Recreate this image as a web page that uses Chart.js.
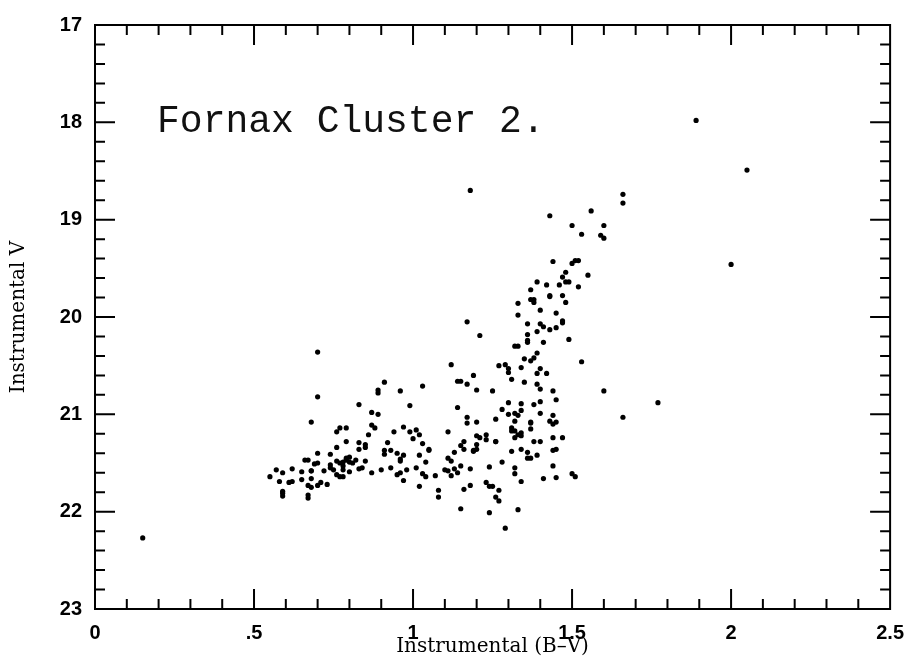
<!DOCTYPE html>
<html>
<head>
<meta charset="utf-8">
<script src="https://cdn.jsdelivr.net/npm/chart.js@4"></script>
<style>
  html, body { margin: 0; padding: 0; background: #fff; }
  #wrap { width: 916px; height: 658px; }
</style>
</head>
<body>
<div id="wrap"><canvas id="cmd" width="916" height="658"></canvas></div>
<script>
const plotLabel = "Fornax Cluster 2.";
const xAxisTitle = "Instrumental (B\u2013V)";
const yAxisTitle = "Instrumental V";
const xTickValues = [0, 0.5, 1, 1.5, 2, 2.5];
const xTickLabels = ["0", ".5", "1", "1.5", "2", "2.5"];
const yTickValues = [17, 18, 19, 20, 21, 22, 23];
const yTickLabels = ["17", "18", "19", "20", "21", "22", "23"];

// instrumental B-V colour of each star
const colorBV = [
  0.70, 0.70, 0.68, 0.91, 0.89, 0.89, 0.83, 0.87, 0.89, 0.87,
  0.88, 0.94, 0.76, 0.77, 0.79, 0.86, 0.79, 0.83, 0.85, 0.85,
  0.76, 0.83, 0.92, 0.91, 0.91, 0.93, 0.70, 0.74, 0.79, 0.80,
  0.66, 0.67, 0.70, 0.69, 0.76, 0.77, 0.78, 0.79, 0.80, 0.81,
  0.82, 0.85, 0.74, 0.74, 0.75, 0.78, 0.78, 0.83, 0.84, 0.80,
  0.72, 0.68, 0.68, 0.65, 0.62, 0.59, 0.57, 0.55, 0.58, 0.61,
  0.62, 0.65, 0.68, 0.76, 0.77, 0.78, 0.87, 0.90, 0.93, 0.95,
  0.67, 0.68, 0.70, 0.71, 0.73, 0.59, 0.59, 0.59, 0.67, 0.67,
  1.03, 0.96, 0.99, 1.14, 1.17, 1.17, 1.20, 1.26, 1.28, 1.30,
  1.30, 1.34, 1.34, 1.32, 1.33, 1.38, 1.32, 1.31, 1.31, 1.32,
  1.33, 1.32, 1.34, 1.34, 1.37, 1.37, 1.37, 1.38, 0.97, 0.99,
  1.01, 1.02, 1.00, 1.11, 1.03, 1.05, 1.05, 0.95, 0.97, 0.96,
  0.96, 1.02, 1.04, 0.98, 0.96, 1.01, 1.03, 1.04, 1.07, 0.97,
  1.02, 1.08, 1.08, 1.16, 1.15, 1.16, 1.13, 1.19, 1.19, 1.20,
  1.20, 1.20, 1.21, 1.23, 1.23, 1.26, 1.26, 1.11, 1.12, 1.10,
  1.11, 1.13, 1.14, 1.12, 1.15, 1.18, 1.24, 1.28, 1.31, 1.34,
  1.36, 1.36, 1.37, 1.32, 1.32, 1.34, 1.23, 1.24, 1.25, 1.27,
  1.26, 1.27, 1.18, 1.16, 1.15, 1.24, 1.33, 1.29,
  1.18, 1.43, 1.56, 1.50, 1.53, 1.44, 1.50, 1.51, 1.52, 1.48,
  1.47, 1.48, 1.49, 1.55, 1.46, 1.52, 1.39, 1.42, 1.37, 1.43,
  1.43, 1.47, 1.37, 1.38, 1.38, 1.48, 1.40, 1.33, 1.33, 1.45,
  1.36, 1.40, 1.41, 1.43, 1.39, 1.45, 1.47, 1.47, 1.17, 1.21,
  1.36, 1.36, 1.36, 1.41, 1.49, 1.32, 1.33, 1.39, 1.38, 1.35,
  1.37, 1.53, 1.12, 1.27, 1.29, 1.30, 1.30, 1.34, 1.40, 1.39,
  1.42, 1.19, 1.14, 1.15, 1.17, 1.31, 1.35, 1.39, 1.20, 1.25,
  1.40, 1.44, 1.45, 1.40, 1.40, 1.44, 1.43, 1.44, 1.45, 1.40,
  1.44, 1.47, 1.39, 1.44, 1.45, 1.44, 1.41, 1.45, 1.50, 1.51,
  2.05, 1.66, 1.66, 1.60, 1.59, 1.60, 2.00, 1.60, 1.77, 1.66, 1.89, 0.15
];

// instrumental V magnitude, same order
const magV = [
  20.36, 20.82, 21.08, 20.67, 20.75, 20.78, 20.90, 20.98, 21.00, 21.11,
  21.14, 21.18, 21.18, 21.14, 21.14, 21.21, 21.28, 21.29, 21.31, 21.34,
  21.34, 21.36, 21.29, 21.41, 21.37, 21.37, 21.40, 21.41, 21.45, 21.44,
  21.47, 21.47, 21.50, 21.51, 21.48, 21.50, 21.49, 21.47, 21.49, 21.50,
  21.47, 21.48, 21.52, 21.55, 21.57, 21.53, 21.57, 21.56, 21.55, 21.59,
  21.58, 21.58, 21.58, 21.59, 21.56, 21.60, 21.57, 21.64, 21.69, 21.70,
  21.69, 21.67, 21.66, 21.62, 21.64, 21.64, 21.60, 21.57, 21.55, 21.62,
  21.73, 21.75, 21.73, 21.70, 21.72, 21.79, 21.81, 21.84, 21.83, 21.86,
  20.71, 20.76, 20.91, 20.93, 21.03, 21.09, 21.08, 21.05, 20.95, 20.88,
  21.00, 20.89, 20.96, 20.99, 21.01, 20.90, 21.07, 21.14, 21.17, 21.17,
  21.21, 21.24, 21.19, 21.22, 21.09, 21.08, 21.15, 21.28, 21.13, 21.18,
  21.16, 21.21, 21.25, 21.18, 21.30, 21.36, 21.37, 21.40, 21.42, 21.46,
  21.48, 21.42, 21.49, 21.57, 21.60, 21.55, 21.61, 21.64, 21.63, 21.68,
  21.74, 21.78, 21.85, 21.28, 21.32, 21.36, 21.39, 21.37, 21.38, 21.36,
  21.31, 21.22, 21.24, 21.26, 21.21, 21.28, 21.28, 21.45, 21.48, 21.57,
  21.58, 21.56, 21.60, 21.63, 21.53, 21.56, 21.54, 21.49, 21.38, 21.36,
  21.39, 21.45, 21.45, 21.55, 21.61, 21.69, 21.70, 21.74, 21.74, 21.78,
  21.85, 21.89, 21.73, 21.77, 21.97, 22.01, 21.98, 22.17,
  18.70, 18.96, 18.91, 19.06, 19.15, 19.43, 19.45, 19.42, 19.42, 19.54,
  19.59, 19.64, 19.64, 19.57, 19.67, 19.69, 19.64, 19.67, 19.72, 19.78,
  19.79, 19.78, 19.82, 19.82, 19.85, 19.85, 19.93, 19.86, 19.98, 19.96,
  20.07, 20.07, 20.10, 20.13, 20.15, 20.11, 20.06, 20.04, 20.05, 20.19,
  20.18, 20.24, 20.26, 20.26, 20.23, 20.30, 20.30, 20.37, 20.42, 20.43,
  20.45, 20.46, 20.49, 20.50, 20.49, 20.53, 20.57, 20.52, 20.53, 20.58,
  20.58, 20.60, 20.66, 20.66, 20.69, 20.64, 20.67, 20.69, 20.75, 20.76,
  20.74, 20.76, 20.85, 20.87, 20.99, 21.01, 21.07, 21.10, 21.08, 21.28,
  21.24, 21.24, 21.42, 21.37, 21.36, 21.53, 21.66, 21.65, 21.61, 21.64,
  18.49, 18.74, 18.83, 19.06, 19.16, 19.19, 19.46, 20.76, 20.88, 21.03, 17.98, 22.27
];

const points = colorBV.map((bv, i) => ({ x: bv, y: magV[i] }));

// frame with inward tick marks on all four sides, plus the label inside the plot
const frameTicks = {
  id: 'frameTicks',
  afterDraw(chart) {
    const { ctx, chartArea: a, scales: { x, y } } = chart;
    ctx.save();
    ctx.strokeStyle = '#000';
    ctx.lineWidth = 2;
    ctx.strokeRect(a.left, a.top, a.right - a.left, a.bottom - a.top);
    ctx.beginPath();
    for (let i = 1; i < 25; i++) {
      const px = x.getPixelForValue(i * 0.1);
      const len = i % 5 === 0 ? 20 : 10;
      ctx.moveTo(px, a.bottom); ctx.lineTo(px, a.bottom - len);
      ctx.moveTo(px, a.top); ctx.lineTo(px, a.top + len);
    }
    for (let i = 1; i < 30; i++) {
      const py = y.getPixelForValue(17 + i * 0.2);
      const len = i % 5 === 0 ? 20 : 10;
      ctx.moveTo(a.left, py); ctx.lineTo(a.left + len, py);
      ctx.moveTo(a.right, py); ctx.lineTo(a.right - len, py);
    }
    ctx.stroke();

    ctx.fillStyle = '#111';
    ctx.font = '38px "Liberation Mono"';
    ctx.textBaseline = 'alphabetic';
    ctx.fillText(plotLabel, x.getPixelForValue(0.195), y.getPixelForValue(18.1));
    ctx.restore();
  }
};

const tickFont = { family: 'Liberation Sans', weight: 'bold', size: 20 };
const titleFont = { family: 'DejaVu Serif', size: 20 };

new Chart(document.getElementById('cmd'), {
  type: 'scatter',
  data: {
    datasets: [{
      data: points,
      backgroundColor: '#000',
      borderWidth: 0,
      pointRadius: 2.6,
      pointHoverRadius: 2.6
    }]
  },
  options: {
    responsive: false,
    animation: false,
    layout: { padding: { top: 20, right: 16, left: 0, bottom: 0 } },
    plugins: { legend: { display: false }, tooltip: { enabled: false } },
    scales: {
      x: {
        type: 'linear', min: 0, max: 2.5,
        afterBuildTicks: s => { s.ticks = xTickValues.map(v => ({ value: v })); },
        afterFit: s => { s.height = 49; },
        grid: { display: false, drawTicks: false },
        border: { display: false },
        ticks: {
          color: '#000', font: tickFont, padding: 12, maxRotation: 0, autoSkip: false,
          callback: v => xTickLabels[xTickValues.indexOf(v)]
        },
        title: { display: true, text: xAxisTitle, color: '#000', font: titleFont, padding: { top: 0, bottom: -1 } }
      },
      y: {
        type: 'linear', min: 17, max: 23, reverse: true,
        afterBuildTicks: s => { s.ticks = yTickValues.map(v => ({ value: v })); },
        afterFit: s => { s.width = 95; },
        grid: { display: false, drawTicks: false },
        border: { display: false },
        ticks: {
          color: '#000', font: tickFont, padding: 13, autoSkip: false,
          callback: v => yTickLabels[yTickValues.indexOf(v)]
        },
        title: { display: true, text: yAxisTitle, color: '#000', font: titleFont, padding: { top: 7, bottom: 0 } }
      }
    }
  },
  plugins: [frameTicks]
});
</script>
</body>
</html>
